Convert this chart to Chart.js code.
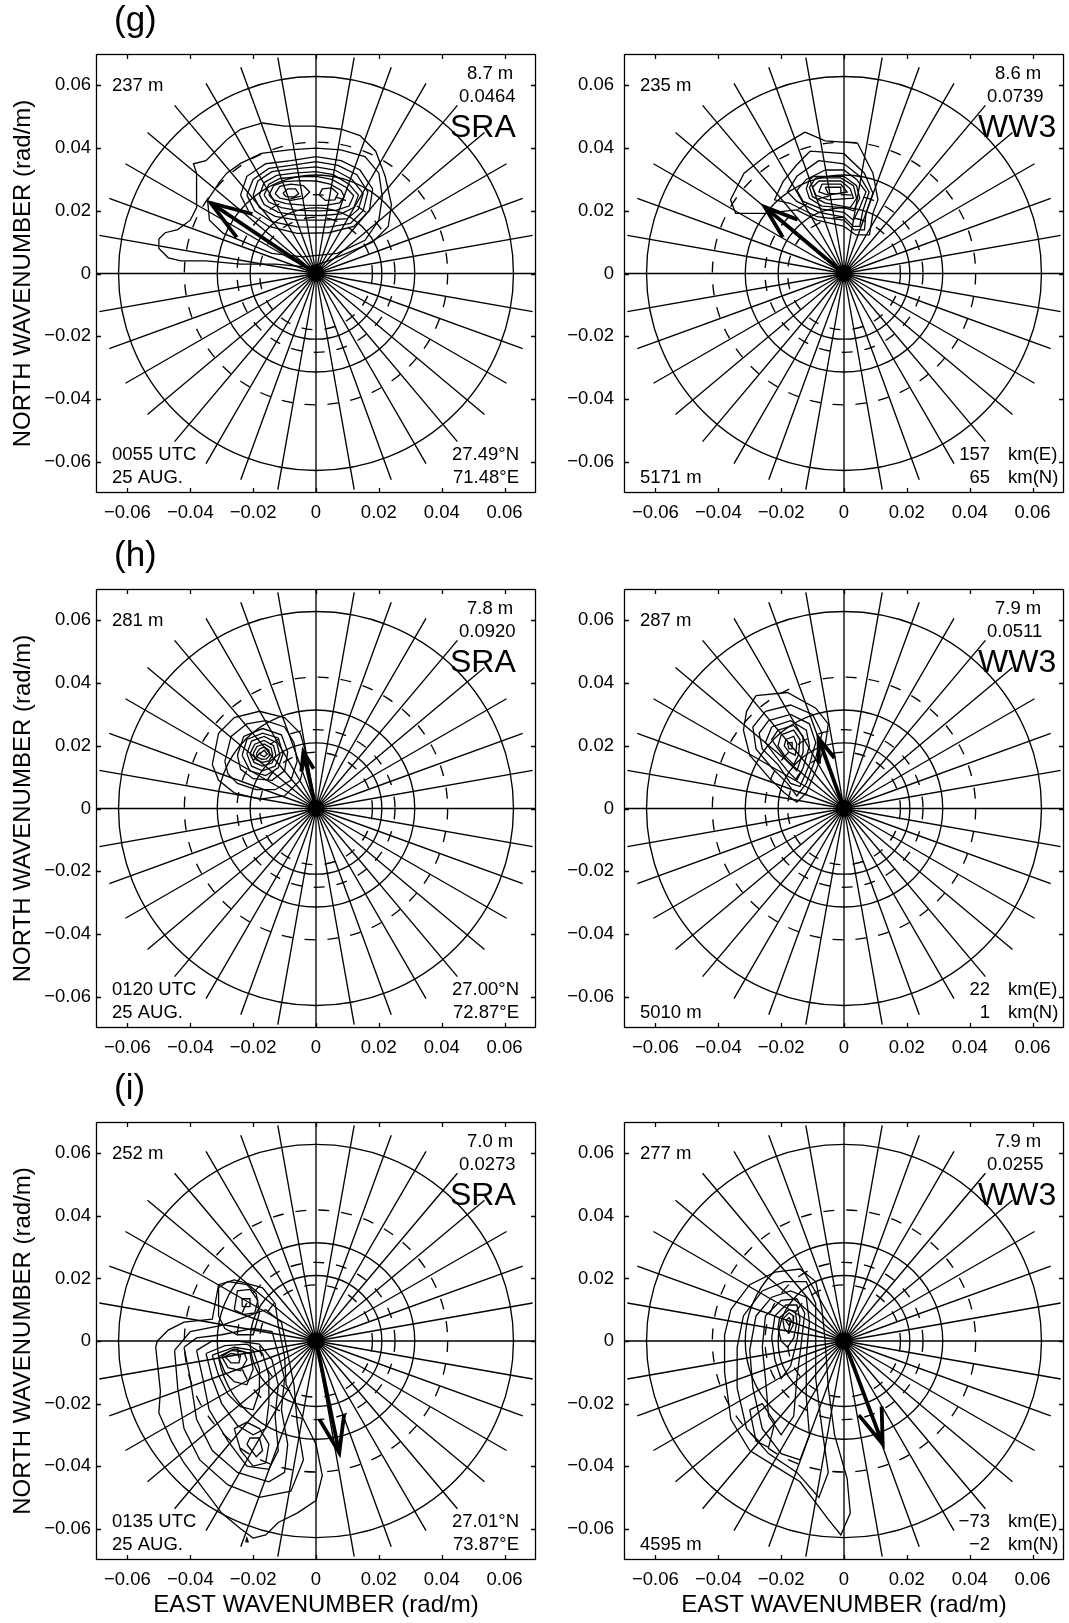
<!DOCTYPE html>
<html>
<head>
<meta charset="utf-8">
<title>Directional wave spectra (g)-(i)</title>
<script src="https://cdn.jsdelivr.net/npm/chart.js@4.4.0/dist/chart.umd.min.js"></script>
<style>
  body { margin: 0; background: #fff; }
  #page { position: relative; width: 1069px; height: 1623px; overflow: hidden; }
  canvas { position: absolute; }
</style>
</head>
<body>
<div id="page">
  <canvas id="gSra" width="540" height="535" style="left:0;top:0"></canvas>
  <canvas id="gWw3" width="529" height="535" style="left:540px;top:0"></canvas>
  <canvas id="hSra" width="540" height="535" style="left:0;top:535px"></canvas>
  <canvas id="hWw3" width="529" height="535" style="left:540px;top:535px"></canvas>
  <canvas id="iSra" width="540" height="555" style="left:0;top:1068px"></canvas>
  <canvas id="iWw3" width="529" height="555" style="left:540px;top:1068px"></canvas>
</div>
<script>
// axes
const tickValues = [-0.06, -0.04, -0.02, 0, 0.02, 0.04, 0.06];
const tickLabels = ['\u22120.06', '\u22120.04', '\u22120.02', '0', '0.02', '0.04', '0.06'];
const axisMin = -0.07, axisMax = 0.07;

// polar grid: wavelength circles (m) and spokes
const solidWavelengths = [100, 200, 300];
const dashedWavelengths = [150, 250, 350];
const spokeStepDeg = 10;
const spokeLength = 0.07;

// contour vertices are typed in 1e-3 rad/m (east, north)
const K = 0.001;

const gSraContours = [
  [[-13,3],[-24,3],[-35,4],[-43,4],[-47,5],[-50,8],[-50,11],[-48,13],[-44,14],[-40,17],[-38,21],[-38,28],[-38,32],[-39,35],[-35,36],[-31,40],[-28,43],[-24,46],[-17,48],[-10,47],[-1,47],[8,46],[14,44],[19,39],[22,31],[24,22],[23,15],[18,10],[11,7],[4,4],[-2,2]],
  [[-30.6,29.3],[-34.5,23.4],[-33.9,17],[-29.5,12.8],[-21.8,9.6],[-14.1,6.4],[-4.2,5.3],[6.8,6.4],[15.6,10.6],[20,17],[21.1,24.5],[20,32],[15.6,37.3],[7.9,39.4],[0,40],[-8.6,39.4],[-17.4,38.3],[-24,35.1],[-28.4,32]],
  [[-24,25],[-22,31],[-16,35],[-8,36],[0,37.3],[8,36],[14,33],[18,27],[17,20],[12,15],[4,13],[-6,12.8],[-15,15],[-21,19]],
  [[-22,25],[-20,30],[-15,33.5],[-8,34.5],[0,35.7],[7,34.5],[13,31.5],[16.5,26],[15,20],[11,16],[4,14.8],[-6,14.9],[-14,16.5],[-19.5,20]],
  [[-20,25],[-18.5,29.5],[-14,32.5],[-8,33.3],[0,34],[6,33],[11.5,30],[15,25.5],[13.5,20.5],[10,17.5],[3,17],[-6,17],[-13,18.2],[-18,21]],
  [[-18,25],[-16.5,29],[-12.5,31.3],[-7,32],[0,32.5],[5.5,31.5],[10.5,28.5],[13.5,25],[12,21],[8,19],[2,18.5],[-6,18.6],[-12,19.5],[-16.5,22]],
  [[-16.5,25],[-15,28.5],[-11.5,30.3],[-6,30.8],[0,31],[5,30],[9.5,27.5],[12,24.8],[10.5,21.5],[6.5,20.2],[1,20],[-6,20.1],[-11,21],[-15,22.8]],
  [[-15,25],[-13.5,28],[-10,29.3],[-5,29.6],[0,29.5],[4.5,28.5],[8,26.5],[9,24.5],[7.5,22.5],[3,21.7],[-4,21.8],[-9.5,22.3],[-13.5,23.5]],
  [[-13,25.5],[-11.5,27.8],[-8,28.5],[-4,28],[-2,26],[-4,24],[-8,23.3],[-11.5,24]],
  [[1,25],[2,27],[5,27.3],[7,25.5],[6,23.5],[3,23.3]],
  [[-10.5,25.6],[-9,27],[-6.5,27],[-5.5,25.5],[-7,24.4],[-9.5,24.5]]
];
const gWw3Contours = [
  [[-12.4,45.1],[-6,42.3],[4.3,41.6],[9.2,32],[10.8,23.5],[9.2,19.2],[8.1,12.3],[3.8,12.3],[0,15],[-8.6,17],[-15.1,20.3],[-25.3,19.2],[-34.5,19.2],[-36.1,23.5],[-31.8,32],[-23.7,38.4]],
  [[-10.8,39],[0,38.2],[6.5,32],[9.2,25.6],[7,19.2],[6.5,13.9],[3.2,13.9],[0,17],[-8.6,18.1],[-17.2,22.4],[-22.1,23.5],[-19.4,29.3],[-15.1,34.6]],
  [[-8,36],[0,35],[5,31],[8,26],[6,20],[5,15],[3,15],[0,18],[-8,19.5],[-15,23],[-18,26],[-15,31]],
  [[-6,33],[0,33],[4,30],[7,26],[5,21],[3,17],[0,19.5],[-7,20.5],[-13,23],[-15,26.5],[-12,30]],
  [[-9.5,31],[0,31],[4,28],[5,24],[3,20],[0,21],[-7,21.5],[-11,24],[-12,27],[-11,30]],
  [[-9,30.5],[-1,30.5],[3,28],[4,24],[2,21],[-6,22.5],[-10,24.5],[-11,27.5]],
  [[-8,29.5],[-1,29.5],[2,27],[3,24],[-5,23.5],[-9,25],[-10,27.5]],
  [[-7,28.5],[-1,28.5],[1,26],[-5,25],[-8,26]],
  [[-6,27.5],[-1,27.5],[-1,25.5],[-5,25.5]]
];
const hSraContours = [
  [[-33,14],[-31,24],[-26,29],[-18,31],[-10,29],[-5,24],[-3,17],[-5,9],[-10,4],[-18,3],[-26,5],[-31,9]],
  [[-29,15],[-27,23],[-22,27],[-16,28],[-10,26],[-7,21],[-6,15],[-8,9],[-13,6],[-19,6],[-25,8],[-28,11]],
  [[-25,17],[-23,23],[-17,25.5],[-11,23.5],[-9,18],[-10,12],[-14,9],[-20,9.5],[-24,12.5]],
  [[-23.5,17],[-22,22],[-17,24],[-12,22.5],[-10.5,17.5],[-12,13],[-16,10.5],[-21,12]],
  [[-22,17.5],[-20.5,21.5],[-16.5,23],[-12.5,21],[-11.5,17],[-13,13.5],[-17,12],[-20.5,13.5]],
  [[-21,17.5],[-19.5,20.5],[-16.5,21.7],[-13.5,20],[-12.8,17],[-14,14.5],[-17,13.5],[-19.7,14.7]],
  [[-20,17.5],[-18.8,19.8],[-16.5,20.6],[-14.3,19.3],[-13.8,17],[-15,15.2],[-17,14.7],[-19,15.5]],
  [[-19,17.4],[-18,19],[-16.5,19.6],[-15,18.6],[-14.8,16.8],[-15.8,15.8],[-17.3,15.7],[-18.5,16.3]],
  [[-18,17.3],[-16.5,18.6],[-15.5,17.3],[-16.5,16.5]]
];
const hWw3Contours = [
  [[-28,36],[-18,37],[-9,32],[-5,27],[-6,20],[-9,12],[-12,5],[-15,2],[-19,5],[-24,10],[-30,17],[-32,25],[-31,31]],
  [[-25,31],[-17,33],[-10,30],[-7,24],[-9,16],[-12,8],[-15,4],[-18,8],[-23,13],[-28,19],[-29,26]],
  [[-24,28],[-17,30],[-11,27],[-9,21],[-11,14],[-14,7],[-17,8],[-21,14],[-26,19],[-27,24]],
  [[-23,26],[-17,28],[-12,25],[-11,20],[-13,13],[-15,9],[-18,12],[-22,17],[-25,21]],
  [[-21,25],[-16,26.5],[-13,23],[-13,18],[-15,12],[-18,15],[-21,19],[-23,22]],
  [[-20,23.5],[-16,25],[-14,22],[-14.5,17],[-16,14],[-19,17],[-21,20]],
  [[-18.5,22],[-16,23],[-15,20.5],[-15.5,17],[-17.5,18],[-19,20]],
  [[-18,21],[-16.5,21],[-16.5,19],[-17.5,19]]
];
const iSraContours = [
  [[-50.5,0],[-47,3.5],[-42,6],[-33,7],[-31,18],[-26,19.5],[-17,17],[-13,12],[-12,5],[-10,-5],[-9.5,-14],[-5,-23],[0,-33],[2,-43],[0,-51],[-6,-55],[-12,-58],[-16,-62],[-20,-63],[-24,-60],[-30,-55],[-36,-47],[-42,-39],[-46,-32],[-50,-23],[-49.5,-16],[-51,-2]],
  [[-45,-3],[-44,-15],[-42,-28],[-37,-38],[-28,-46],[-18,-50],[-8,-48],[-4,-38],[-6,-26],[-7,-14],[-9,-4],[-11,6],[-16,10],[-30,5],[-40,3]],
  [[-42,-2],[-40,-12],[-38,-25],[-33,-35],[-25,-42],[-15,-45],[-10,-42],[-9,-33],[-11,-22],[-10,-12],[-12,-4],[-14,3],[-20,4],[-30,2],[-38,1]],
  [[-38,-3],[-36,-12],[-34,-22],[-28,-32],[-22,-40],[-15,-41],[-12,-35],[-13,-24],[-12,-14],[-14,-6],[-18,-1],[-25,0],[-33,0]],
  [[-35,-4],[-33,-12],[-30,-20],[-25,-27],[-20,-30],[-16,-28],[-15,-20],[-15,-11],[-17,-4],[-22,-1],[-29,-1.5]],
  [[-33,-4.5],[-31,-11],[-28,-17],[-24,-21],[-20,-22],[-18,-16],[-18,-9],[-20,-3],[-26,-2]],
  [[-31,-5],[-29,-10],[-26,-13],[-22,-14],[-20,-9],[-21,-4],[-26,-2.5]],
  [[-30,-5],[-28,-8.5],[-24,-9.5],[-22,-6],[-23,-3.5],[-27,-3]],
  [[-29,-5],[-27,-7],[-24.5,-7],[-24,-4.5],[-27,-4]],
  [[-31,8],[-31,17],[-28,19],[-22,18],[-19,15],[-18,9],[-20,2],[-25,2],[-29,4]],
  [[-26,10],[-25,16],[-21,16.5],[-18.5,13],[-19.5,9],[-23,8.5]],
  [[-23.5,11],[-23.5,13.5],[-21,13.5],[-21,11]],
  [[-26,-28],[-24,-35],[-20,-40],[-16,-39],[-15,-33],[-18,-28],[-22,-26]],
  [[-22,-33],[-19,-37],[-17,-35],[-18,-31],[-21,-31]],
  [[-22.4,-64.2],[-21.6,-64.2],[-22,-63]]
];
const iWw3Contours = [
  [[-36,10],[-30,18],[-22,22],[-14,23],[-9,19],[-7,10],[-6,0],[-5,-15],[-3,-30],[1,-44],[2,-55],[-1,-62],[-5,-57],[-14,-45],[-22,-40],[-30,-35],[-36,-25],[-38,-10],[-38,2]],
  [[-32,8],[-26,16],[-19,19],[-12,19],[-9,12],[-9,2],[-9,-12],[-7,-28],[-5,-42],[-8,-50],[-15,-42],[-24,-36],[-31,-28],[-34,-15],[-34,-2]],
  [[-28,8],[-23,14],[-17,16],[-12,14],[-11,6],[-12,-5],[-12,-18],[-11,-30],[-14,-38],[-20,-36],[-26,-28],[-29,-15],[-30,-3]],
  [[-25,8],[-20,13],[-15,13.5],[-12.5,9],[-13.5,0],[-15,-12],[-16,-24],[-20,-30],[-24,-24],[-25,-12],[-26,-2]],
  [[-22,8],[-18.5,11.5],[-15,11.5],[-14,7],[-15,0],[-17,-8],[-20,-12],[-22,-6],[-23,1]],
  [[-20.5,7.5],[-17.5,10],[-15.5,9.5],[-15,6],[-16,1],[-18,-2],[-20,0],[-21,4]],
  [[-19.5,7],[-17.5,9],[-16,8],[-16.2,5],[-17.5,2.5],[-19,4]],
  [[-18.5,6.5],[-17.5,7.5],[-16.8,6.5],[-17.5,5]],
  [[-30,-22],[-26,-20],[-22,-26],[-24,-34],[-28,-32]]
];

// mean direction arrows (tip, rad/m)
const gSraArrow = [-0.0335, 0.0225];
const gWw3Arrow = [-0.0252, 0.0212];
const hSraArrow = [-0.0040, 0.0180];
const hWw3Arrow = [-0.0081, 0.0224];
const iSraArrow = [0.0074, -0.0357];
const iWw3Arrow = [0.0123, -0.0329];

// annotations
const peakWavelengths = ['237 m', '235 m', '281 m', '287 m', '252 m', '277 m'];
const waveHeights = ['8.7 m', '8.6 m', '7.8 m', '7.9 m', '7.0 m', '7.9 m'];
const secondValues = ['0.0464', '0.0739', '0.0920', '0.0511', '0.0273', '0.0255'];
const sources = ['SRA', 'WW3', 'SRA', 'WW3', 'SRA', 'WW3'];
const times = [['0055 UTC', '25 AUG.'], ['0120 UTC', '25 AUG.'], ['0135 UTC', '25 AUG.']];
const positions = [['27.49\u00b0N', '71.48\u00b0E'], ['27.00\u00b0N', '72.87\u00b0E'], ['27.01\u00b0N', '73.87\u00b0E']];
const altitudes = ['5171 m', '5010 m', '4595 m'];
const offsetsE = ['157', '22', '\u221273'];
const offsetsN = ['65', '1', '\u22122'];
const panelLetters = ['(g)', '(h)', '(i)'];

const FONT = '"Liberation Sans", Arial, Helvetica, sans-serif';
Chart.defaults.font.family = FONT;
Chart.defaults.color = '#000';

const panels = {};

const panelPlugin = {
  id: 'panel',
  beforeDatasetsDraw(chart) {
    const ctx = chart.ctx, a = chart.chartArea;
    const xs = chart.scales.x, ys = chart.scales.y;
    const cx = xs.getPixelForValue(0), cy = ys.getPixelForValue(0);
    const kx = xs.getPixelForValue(0.01) - cx, ky = cy - ys.getPixelForValue(0.01);
    ctx.save();
    ctx.beginPath();
    ctx.rect(a.left, a.top, a.width, a.height);
    ctx.clip();
    ctx.strokeStyle = '#000';
    ctx.lineWidth = 1.35;
    solidWavelengths.forEach(L => {
      const k = 2 * Math.PI / L / 0.01;
      ctx.beginPath();
      ctx.ellipse(cx, cy, k * kx, k * ky, 0, 0, 2 * Math.PI);
      ctx.stroke();
    });
    ctx.setLineDash([11, 12]);
    dashedWavelengths.forEach(L => {
      const k = 2 * Math.PI / L / 0.01;
      ctx.beginPath();
      ctx.ellipse(cx, cy, k * kx, k * ky, 0, 0, 2 * Math.PI);
      ctx.stroke();
    });
    ctx.setLineDash([]);
    for (let d = 0; d < 360; d += spokeStepDeg) {
      const t = d * Math.PI / 180;
      ctx.beginPath();
      ctx.moveTo(cx, cy);
      ctx.lineTo(xs.getPixelForValue(spokeLength * Math.cos(t)), ys.getPixelForValue(spokeLength * Math.sin(t)));
      ctx.stroke();
    }
    ctx.beginPath();
    ctx.arc(cx, cy, 8.5, 0, 2 * Math.PI);
    ctx.fillStyle = '#000';
    ctx.fill();
    ctx.restore();
  },
  afterDatasetsDraw(chart) {
    const p = panels[chart.canvas.id];
    const ctx = chart.ctx, a = chart.chartArea;
    const xs = chart.scales.x, ys = chart.scales.y;
    const cx = xs.getPixelForValue(0), cy = ys.getPixelForValue(0);

    // arrow head
    const tx = xs.getPixelForValue(p.arrow[0]), ty = ys.getPixelForValue(p.arrow[1]);
    const back = Math.atan2(cy - ty, cx - tx);
    const hl = 0.34 * Math.hypot(cx - tx, cy - ty);
    const spread = 19 * Math.PI / 180;
    ctx.save();
    ctx.strokeStyle = '#000';
    ctx.lineWidth = 3.8;
    ctx.beginPath();
    ctx.moveTo(tx + hl * Math.cos(back + spread), ty + hl * Math.sin(back + spread));
    ctx.lineTo(tx, ty);
    ctx.lineTo(tx + hl * Math.cos(back - spread), ty + hl * Math.sin(back - spread));
    ctx.stroke();

    // frame and inward ticks
    ctx.lineWidth = 1.3;
    ctx.strokeRect(a.left + 0.5, a.top + 0.5, a.width - 1, a.height - 1);
    ctx.beginPath();
    tickValues.forEach(v => {
      const px = Math.round(xs.getPixelForValue(v)) + 0.5;
      const py = Math.round(ys.getPixelForValue(v)) + 0.5;
      ctx.moveTo(px, a.bottom); ctx.lineTo(px, a.bottom - 5);
      ctx.moveTo(px, a.top); ctx.lineTo(px, a.top + 5);
      ctx.moveTo(a.left, py); ctx.lineTo(a.left + 5, py);
      ctx.moveTo(a.right, py); ctx.lineTo(a.right - 5, py);
    });
    ctx.stroke();

    // texts
    ctx.fillStyle = '#000';
    ctx.textBaseline = 'middle';
    ctx.textAlign = 'left';
    ctx.font = '18.5px ' + FONT;
    ctx.fillText(p.peak, a.left + 16, a.top + 32);
    ctx.fillText(p.hs, a.left + 371, a.top + 20);
    ctx.fillText(p.second, a.left + 363, a.top + 42.5);
    if (p.times) {
      ctx.fillText(p.times[0], a.left + 16, a.bottom - 38);
      ctx.fillText(p.times[1], a.left + 16, a.bottom - 15);
      ctx.textAlign = 'right';
      ctx.fillText(p.pos[0], a.right - 17, a.bottom - 38);
      ctx.fillText(p.pos[1], a.right - 17, a.bottom - 15);
    } else {
      ctx.fillText(p.alt, a.left + 16, a.bottom - 15);
      ctx.fillText('km(E)', a.left + 384, a.bottom - 38);
      ctx.fillText('km(N)', a.left + 384, a.bottom - 15);
      ctx.textAlign = 'right';
      ctx.fillText(p.offE, a.left + 366, a.bottom - 38);
      ctx.fillText(p.offN, a.left + 366, a.bottom - 15);
    }
    ctx.textAlign = 'left';
    ctx.font = '32px ' + FONT;
    ctx.fillText(p.source, a.left + 354, a.top + 74);
    if (p.letter) {
      ctx.font = '35px ' + FONT;
      ctx.fillText(p.letter, a.left + 18, a.top - 33);
    }
    ctx.restore();
  }
};

function makePanel(id, p) {
  panels[id] = p;
  const datasets = p.contours.map(ring => ({
    data: ring.concat([ring[0]]).map(v => ({ x: v[0] * K, y: v[1] * K })),
    showLine: true, borderColor: '#000', borderWidth: 1.3, pointRadius: 0, fill: false, tension: 0
  }));
  datasets.push({
    data: [{ x: 0, y: 0 }, { x: p.arrow[0], y: p.arrow[1] }],
    showLine: true, borderColor: '#000', borderWidth: 3.8, pointRadius: 0, fill: false
  });
  const tickFont = { size: 18.5 };
  const sharedAxis = {
    type: 'linear', min: axisMin, max: axisMax,
    grid: { display: false, drawTicks: false },
    border: { display: false },
    afterBuildTicks: s => { s.ticks = tickValues.map(v => ({ value: v })); }
  };
  new Chart(document.getElementById(id), {
    type: 'scatter',
    data: { datasets },
    options: {
      responsive: false,
      animation: false,
      devicePixelRatio: 1,
      layout: { padding: { top: 54, left: 0, right: p.left ? 4 : 5, bottom: 0 } },
      plugins: { legend: { display: false }, tooltip: { enabled: false } },
      scales: {
        x: Object.assign({}, sharedAxis, {
          afterFit: s => { s.height = p.bottomRow ? 63 : 42; },
          ticks: { padding: 9, font: tickFont, color: '#000', autoSkip: false, maxRotation: 0,
                   callback: (v, i) => tickLabels[i] },
          title: { display: p.bottomRow, text: 'EAST WAVENUMBER (rad/m)', font: { size: 24 },
                   color: '#000', padding: { top: 0, bottom: 3 } }
        }),
        y: Object.assign({}, sharedAxis, {
          afterFit: s => { s.width = p.left ? 96 : 84; },
          ticks: { padding: p.left ? 5 : 10, font: tickFont, color: '#000', autoSkip: false,
                   callback: (v, i) => tickLabels[i] },
          title: { display: p.left, text: 'NORTH WAVENUMBER (rad/m)', font: { size: 24 },
                   color: '#000', padding: { top: 9, bottom: 0 } }
        })
      }
    },
    plugins: [panelPlugin]
  });
}

const ids = ['gSra', 'gWw3', 'hSra', 'hWw3', 'iSra', 'iWw3'];
const contourSets = [gSraContours, gWw3Contours, hSraContours, hWw3Contours, iSraContours, iWw3Contours];
const arrows = [gSraArrow, gWw3Arrow, hSraArrow, hWw3Arrow, iSraArrow, iWw3Arrow];

ids.forEach((id, n) => {
  const row = Math.floor(n / 2), isLeft = n % 2 === 0;
  makePanel(id, {
    left: isLeft,
    bottomRow: row === 2,
    contours: contourSets[n],
    arrow: arrows[n],
    peak: peakWavelengths[n],
    hs: waveHeights[n],
    second: secondValues[n],
    source: sources[n],
    letter: isLeft ? panelLetters[row] : null,
    times: isLeft ? times[row] : null,
    pos: isLeft ? positions[row] : null,
    alt: altitudes[row],
    offE: offsetsE[row],
    offN: offsetsN[row]
  });
});
</script>
</body>
</html>
